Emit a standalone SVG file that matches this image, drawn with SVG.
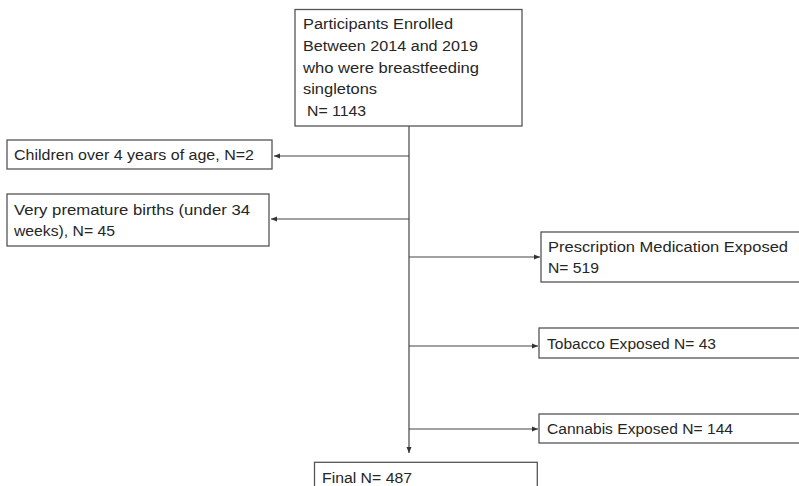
<svg xmlns="http://www.w3.org/2000/svg" width="799" height="486" viewBox="0 0 799 486">
<defs>
<style>
.box{fill:#fff;stroke:#555;stroke-width:1.3}
.t{font-family:"Liberation Sans",Arial,sans-serif;font-size:15.5px;fill:#262626}
.c{stroke:#444;stroke-width:1.2;fill:none}
</style>
<marker id="ah" viewBox="0 0 6 6" refX="6" refY="3" markerWidth="6" markerHeight="6" markerUnits="userSpaceOnUse" orient="auto">
<path d="M0,0.5 L6,3 L0,5.5 z" fill="#333"/>
</marker>
</defs>
<rect width="799" height="486" fill="#fff"/>
<g id="connectors">
<line class="c" x1="409" y1="126" x2="409" y2="453" marker-end="url(#ah)"/>
<line class="c" x1="409" y1="156" x2="274" y2="156" marker-end="url(#ah)"/>
<line class="c" x1="409" y1="219" x2="271" y2="219" marker-end="url(#ah)"/>
<line class="c" x1="409" y1="257" x2="540" y2="257" marker-end="url(#ah)"/>
<line class="c" x1="409" y1="346" x2="538" y2="346" marker-end="url(#ah)"/>
<line class="c" x1="409" y1="429" x2="538" y2="429" marker-end="url(#ah)"/>
</g>
<g id="enrolled">
<rect class="box" x="295" y="9.5" width="227" height="116.5"/>
<text class="t" x="303" y="29" textLength="150" lengthAdjust="spacingAndGlyphs">Participants Enrolled</text>
<text class="t" x="303" y="51" textLength="175" lengthAdjust="spacingAndGlyphs">Between 2014 and 2019</text>
<text class="t" x="303" y="73" textLength="176" lengthAdjust="spacingAndGlyphs">who were breastfeeding</text>
<text class="t" x="303" y="94" textLength="74" lengthAdjust="spacingAndGlyphs">singletons</text>
<text class="t" x="307" y="116" textLength="59" lengthAdjust="spacingAndGlyphs">N= 1143</text>
</g>
<g id="children">
<rect class="box" x="7" y="140" width="265" height="29"/>
<text class="t" x="14" y="160" textLength="240" lengthAdjust="spacingAndGlyphs">Children over 4 years of age, N=2</text>
</g>
<g id="premature">
<rect class="box" x="7" y="194" width="262" height="52"/>
<text class="t" x="14" y="215" textLength="236" lengthAdjust="spacingAndGlyphs">Very premature births (under 34</text>
<text class="t" x="14" y="236" textLength="101" lengthAdjust="spacingAndGlyphs">weeks), N= 45</text>
</g>
<g id="prescription">
<rect class="box" x="541" y="232" width="262" height="50"/>
<text class="t" x="548" y="252" textLength="240" lengthAdjust="spacingAndGlyphs">Prescription Medication Exposed</text>
<text class="t" x="548" y="273" textLength="51" lengthAdjust="spacingAndGlyphs">N= 519</text>
</g>
<g id="tobacco">
<rect class="box" x="539" y="328" width="264" height="30"/>
<text class="t" x="547" y="349" textLength="169" lengthAdjust="spacingAndGlyphs">Tobacco Exposed N= 43</text>
</g>
<g id="cannabis">
<rect class="box" x="539" y="414" width="264" height="29"/>
<text class="t" x="547" y="434" textLength="186" lengthAdjust="spacingAndGlyphs">Cannabis Exposed N= 144</text>
</g>
<g id="final">
<rect class="box" x="314.5" y="462.3" width="222.8" height="30"/>
<text class="t" x="322" y="483" textLength="90" lengthAdjust="spacingAndGlyphs">Final N= 487</text>
</g>
</svg>
